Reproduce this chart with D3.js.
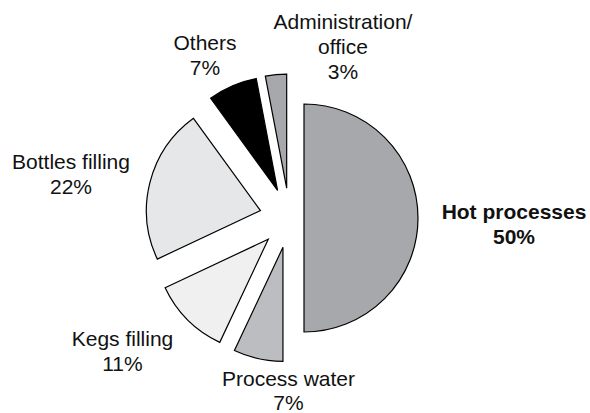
<!DOCTYPE html>
<html>
<head>
<meta charset="utf-8">
<script src="https://cdn.jsdelivr.net/npm/d3@7"></script>
<style>
  html, body { margin: 0; padding: 0; background: #fff; }
  svg { display: block; }
  text { font-family: "Liberation Sans", Arial, sans-serif; fill: #111; }
</style>
</head>
<body>
<svg id="chart" width="590" height="413"></svg>
<script>
// Data
const categories = ["Hot processes", "Process water", "Kegs filling", "Bottles filling", "Others", "Administration/office"];
const values = [50, 7, 11, 22, 7, 3];
const labelLines = [
  ["Hot processes", "50%"],
  ["Process water", "7%"],
  ["Kegs filling", "11%"],
  ["Bottles filling", "22%"],
  ["Others", "7%"],
  ["Administration/", "office", "3%"]
];

// Styling / layout (not data)
const colors = ["#a7a8ab", "#bcbdc0", "#f0f0f0", "#e6e7e8", "#000000", "#a7a8ab"];
const explode = [14.5, 30, 30, 30, 30, 30];
const labelPos = [
  [514, 212], [288.5, 379], [122.5, 339], [71, 162], [205, 43], [343, 22]
];
const lineGap = [25, 24, 25, 25, 25, 25];
const boldLabel = [true, false, false, false, false, false];

const cx = 289.5, cy = 218, R = 114;
const svg = d3.select("#chart");
const g = svg.append("g").attr("transform", `translate(${cx},${cy})`);

const pie = d3.pie().sort(null).value(d => d).startAngle(0).endAngle(2 * Math.PI);
const arcs = pie(values);
const arc = d3.arc().innerRadius(0).outerRadius(R);

g.selectAll("path.slice")
  .data(arcs)
  .join("path")
  .attr("class", "slice")
  .attr("d", arc)
  .attr("transform", (d, i) => {
    const a = (d.startAngle + d.endAngle) / 2;
    return `translate(${Math.sin(a) * explode[i]},${-Math.cos(a) * explode[i]})`;
  })
  .attr("fill", (d, i) => colors[i])
  .attr("stroke", "#000")
  .attr("stroke-width", 1.2)
  .attr("stroke-linejoin", "miter");

const labels = svg.selectAll("text.lbl")
  .data(categories)
  .join("text")
  .attr("class", "lbl")
  .attr("text-anchor", "middle")
  .attr("font-size", 21)
  .attr("font-weight", (d, i) => boldLabel[i] ? "bold" : "normal")
  .attr("x", (d, i) => labelPos[i][0])
  .attr("y", (d, i) => labelPos[i][1]);

labels.each(function(d, i) {
  const t = d3.select(this);
  labelLines[i].forEach((line, j) => {
    t.append("tspan")
      .attr("x", labelPos[i][0])
      .attr("y", labelPos[i][1] + j * lineGap[i])
      .attr("dy", "0.35em")
      .text(line);
  });
});
</script>
</body>
</html>
